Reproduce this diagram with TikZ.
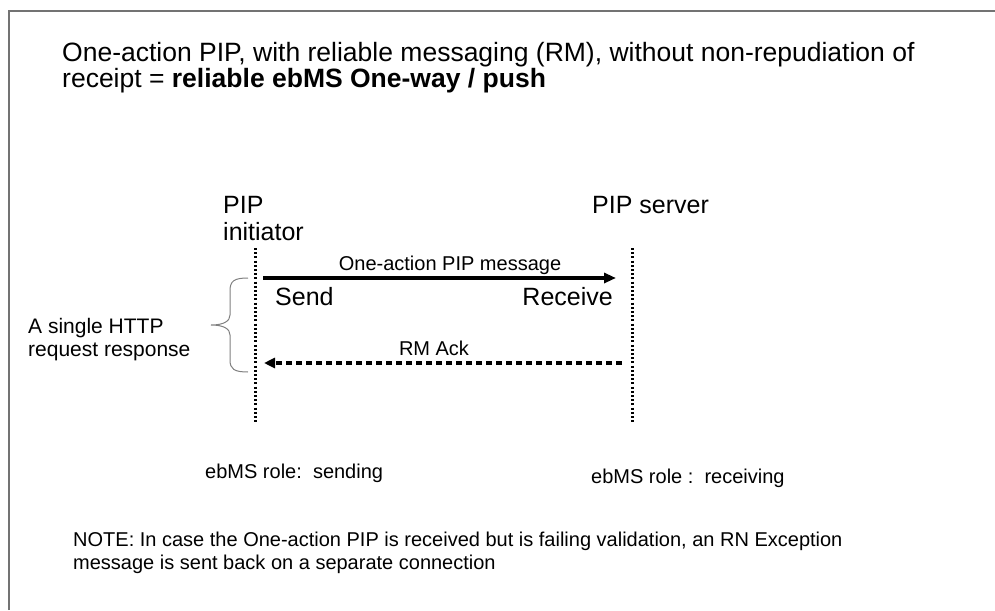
\documentclass[tikz,border=0pt]{standalone}
\usepackage{fontspec}
\setmainfont{Liberation Sans}
\usetikzlibrary{arrows.meta}
\begin{document}
\begin{tikzpicture}[x=1pt,y=-1pt,
  txt/.style={anchor=base west,inner sep=0pt},
  txtr/.style={anchor=base east,inner sep=0pt},
  txtc/.style={anchor=base,inner sep=0pt},
  head/.style={font=\fontsize{26.5}{30}\selectfont},
  big/.style={font=\fontsize{25}{29}\selectfont},
  mid/.style={font=\fontsize{21}{25}\selectfont},
  small/.style={font=\fontsize{20}{24}\selectfont},
  lifeline/.style={line width=3pt,dash pattern=on 2pt off 2.2pt},
  msg/.style={line width=3.4pt,-{Triangle[length=12pt,width=10pt]}},
  ack/.style={line width=3.4pt,dash pattern=on 6pt off 4pt,-{Triangle[length=11pt,width=10pt]}},
  frame/.style={draw=black!55,line width=1.4pt}]
\useasboundingbox (0,0) rectangle (995,610);
% outer frame (top and left edges)
\draw[frame] (9,610) -- (9,11) -- (995,11);

% heading
\node[txt,head] (t1) at (62,62) {One-action PIP, with reliable messaging (RM), without non-repudiation of};
\node[txt,head] (t2) at (62,87) {receipt = \textbf{reliable ebMS One-way / push}};

% party names
\node[txt,big] (pip) at (223,213) {PIP};
\node[txt,big] (init) at (223,240) {initiator};
\node[txt,big] (srv) at (592,213) {PIP server};

% lifelines
\coordinate (la) at (255,248);
\coordinate (lb) at (255,424);
\coordinate (ra) at (632,248);
\coordinate (rb) at (632,424);
\draw[lifeline] (la) -- (lb);
\draw[lifeline] (ra) -- (rb);

% request message
\coordinate (m1a) at (263,278);
\coordinate (m1b) at (616,278);
\draw[msg] (m1a) -- (m1b);
\node[txtc,small] (mlab) at (450,270) {One-action PIP message};
\node[txt,big] (send) at (275,305) {Send};
\node[txtr,big] (recv) at (613,305) {Receive};

% acknowledgement
\coordinate (m2a) at (622,363);
\coordinate (m2b) at (264,363);
\draw[ack] (m2a) -- (m2b);
\node[txtc,small] (alab) at (434,355) {RM Ack};

% brace around the exchange
\draw[black!50,line width=1pt] (248,278) .. controls (234,278) and (230,281) .. (230,291)
  -- (230,315) .. controls (230,321) and (224,325) .. (211,325)
  .. controls (224,325) and (230,329) .. (230,335)
  -- (230,360) .. controls (230,369) and (234,372) .. (248,372);
\node[txt,mid] (http1) at (28,333) {A single HTTP};
\node[txt,mid] (http2) at (28,356) {request response};

% roles
\node[txt,small] (role1) at (205,478) {ebMS role:\ \ sending};
\node[txt,small] (role2) at (591,483) {ebMS role\ :\ \ receiving};

% note
\node[txt,small] (n1) at (73,546) {NOTE: In case the One-action PIP is received but is failing validation, an RN Exception};
\node[txt,small] (n2) at (73,569) {message is sent back on a separate connection};
\end{tikzpicture}
\end{document}
